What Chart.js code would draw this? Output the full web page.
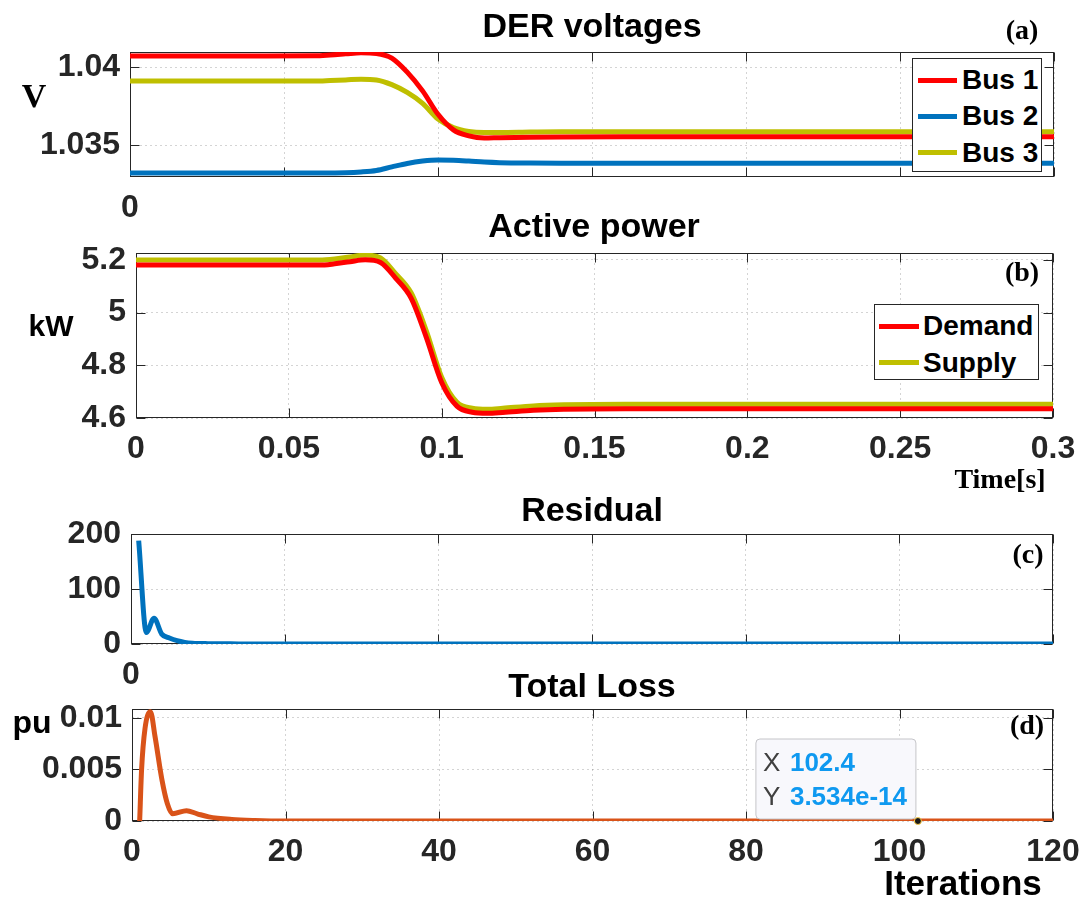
<!DOCTYPE html>
<html lang="en">
<head>
<meta charset="UTF-8">
<title>DER voltages / Active power / Residual / Total Loss</title>
<script src="https://cdn.jsdelivr.net/npm/chart.js"></script>
<style>
    body { margin: 0; background: #fff; }
    #fig { position: relative; width: 1082px; height: 902px; overflow: hidden; background: #fff; }
    #fig canvas { position: absolute; left: 0; z-index: 1; }
    .lbl { position: absolute; white-space: nowrap; color: #000; z-index: 2; text-align: center; width: 300px; }
    .sans { font-family: Arial, "Liberation Sans", Helvetica, sans-serif; font-weight: bold; }
    .serif { font-family: "Times New Roman", "Liberation Serif", serif; font-weight: bold; }
    .legend { position: absolute; background: #fff; border: 1px solid #262626; box-sizing: border-box; z-index: 2; }
    .legend .txt { position: absolute; font-size: 28px; line-height: 28px; color: #000; white-space: nowrap; }
    .legend .smp { position: absolute; height: 5px; }
</style>
</head>
<body>
<div id="fig"></div>

<script>
    // ---- data ----
    // panels (a) and (b): time in seconds
    const timeS  = [0, 0.02, 0.04, 0.06, 0.065, 0.07, 0.075, 0.08, 0.085, 0.09, 0.095, 0.1, 0.105, 0.11, 0.115, 0.12, 0.13, 0.14, 0.16, 0.2, 0.25, 0.3];
    const bus1   = [1.04074, 1.04074, 1.04074, 1.04075, 1.0408, 1.04087, 1.04094, 1.0409, 1.0406, 1.0397, 1.0385, 1.0370, 1.0360, 1.03562, 1.03548, 1.0355, 1.03553, 1.03555, 1.03556, 1.03556, 1.03556, 1.03556];
    const bus2   = [1.03324, 1.03324, 1.03324, 1.03324, 1.03324, 1.03325, 1.0333, 1.0334, 1.03363, 1.03385, 1.034, 1.03407, 1.03405, 1.034, 1.03394, 1.0339, 1.03387, 1.03386, 1.03386, 1.03386, 1.03386, 1.03386];
    const bus3   = [1.03913, 1.03913, 1.03913, 1.03913, 1.03916, 1.0392, 1.03925, 1.0392, 1.0389, 1.0384, 1.0377, 1.0367, 1.03615, 1.0359, 1.03583, 1.03583, 1.03586, 1.03588, 1.03588, 1.03588, 1.03588, 1.03588];
    const demand = [5.18, 5.18, 5.18, 5.18, 5.185, 5.193, 5.2, 5.19, 5.13, 5.055, 4.905, 4.735, 4.645, 4.622, 4.618, 4.621, 4.629, 4.633, 4.635, 4.635, 4.635, 4.635];
    const supply = [5.199, 5.199, 5.199, 5.199, 5.203, 5.211, 5.218, 5.207, 5.147, 5.075, 4.93, 4.755, 4.66, 4.637, 4.633, 4.637, 4.646, 4.65, 4.652, 4.652, 4.652, 4.652];

    // panel (c)
    const iterRes  = [1, 2, 3, 4, 5, 6, 7, 8, 10, 14, 20, 120];
    const residual = [188, 21, 47, 18, 11, 6, 3, 1.5, 0.6, 0.2, 0, 0];

    // panel (d)
    const iterLoss = [1, 1.25, 1.7, 2.4, 3, 3.9, 4.6, 5.3, 7.1, 8.5, 10, 13, 16, 20, 120];
    const loss     = [0, 0.005, 0.009, 0.0106, 0.0082, 0.004, 0.0017, 0.0007, 0.001, 0.0007, 0.0004, 0.00015, 0.00005, 0, 0];
    const tipX = 102.4, tipY = 3.534e-14;

    // ticks
    const timeTicks  = [0, 0.05, 0.1, 0.15, 0.2, 0.25, 0.3];
    const timeLabels = ['0', '0.05', '0.1', '0.15', '0.2', '0.25', '0.3'];
    const iterTicks  = [0, 20, 40, 60, 80, 100, 120];
    const iterLabels = ['0', '20', '40', '60', '80', '100', '120'];
    const voltTicks  = [1.035, 1.04];
    const voltLabels = ['1.035', '1.04'];
    const powTicks   = [4.6, 4.8, 5, 5.2];
    const powLabels  = ['4.6', '4.8', '5', '5.2'];
    const resTicks   = [0, 100, 200];
    const resLabels  = ['0', '100', '200'];
    const lossTicks  = [0, 0.005, 0.01];
    const lossLabels = ['0', '0.005', '0.01'];
    const onlyZero   = ['0', '', '', '', '', '', ''];

    const RED = '#ff0000', BLUE = '#0072bd', YELLOW = '#bfbf00', ORANGE = '#d95319';

    // ---- layout ----
    const fig = document.getElementById('fig');
    const PAD_TOP = 24, X_AXIS_H = 60;
    const SANS = 'Arial, "Liberation Sans", Helvetica, sans-serif';

    function pts(xs, ys) {
        return xs.map((x, i) => ({ x: x, y: ys[i] }));
    }

    function axisOpts(which, ax, left) {
        return {
            type: 'linear',
            min: ax.min,
            max: ax.max,
            grid: { color: 'rgba(38,38,38,0.2)', lineWidth: 1, drawTicks: false },
            border: { display: false, dash: [2, 3] },
            ticks: {
                color: '#262626',
                font: { family: SANS, size: 32, weight: 'bold' },
                padding: which === 'x' ? 12 : 10,
                autoSkip: false,
                maxRotation: 0,
                callback: (v, i) => ax.labels[i]
            },
            afterBuildTicks: s => { s.ticks = ax.ticks.map(v => ({ value: v })); },
            afterFit: s => {
                // fixed plot box: labels may spill past it, like the original
                s.paddingLeft = s.paddingRight = s.paddingTop = s.paddingBottom = 0;
                if (which === 'x') s.height = X_AXIS_H;
                else s.width = left;
            }
        };
    }

    // axes box and inward ticks, drawn under the lines like MATLAB
    const framePlugin = {
        id: 'frame',
        beforeDatasetsDraw(chart) {
            const { ctx, chartArea: a, scales } = chart;
            const L = Math.round(a.left) + 0.5, R = Math.round(a.right) - 0.5;
            const T = Math.round(a.top) + 0.5, B = Math.round(a.bottom) - 0.5;
            ctx.save();
            ctx.strokeStyle = '#262626';
            ctx.lineWidth = 1;
            ctx.strokeRect(L, T, R - L, B - T);
            ctx.beginPath();
            scales.x.ticks.forEach(t => {
                const px = Math.round(scales.x.getPixelForValue(t.value)) + 0.5;
                ctx.moveTo(px, B); ctx.lineTo(px, B - 9);
                ctx.moveTo(px, T); ctx.lineTo(px, T + 9);
            });
            scales.y.ticks.forEach(t => {
                const py = Math.round(scales.y.getPixelForValue(t.value)) + 0.5;
                ctx.moveTo(L, py); ctx.lineTo(L + 9, py);
                ctx.moveTo(R, py); ctx.lineTo(R - 9, py);
            });
            ctx.stroke();
            ctx.restore();
        }
    };

    const datatipPlugin = {
        id: 'datatip',
        afterDatasetsDraw(chart) {
            const { ctx, scales: { x, y } } = chart;
            const px = x.getPixelForValue(tipX), py = y.getPixelForValue(tipY);
            const bx = px - 162, by = py - 82, bw = 160, bh = 80, r = 4;
            ctx.save();
            ctx.beginPath();
            ctx.moveTo(bx + r, by);
            ctx.arcTo(bx + bw, by, bx + bw, by + bh, r);
            ctx.arcTo(bx + bw, by + bh, bx, by + bh, r);
            ctx.arcTo(bx, by + bh, bx, by, r);
            ctx.arcTo(bx, by, bx + bw, by, r);
            ctx.closePath();
            ctx.fillStyle = '#f8f8fc';
            ctx.fill();
            ctx.strokeStyle = '#c4c4c8';
            ctx.lineWidth = 1;
            ctx.stroke();

            ctx.textBaseline = 'middle';
            ctx.font = '26px ' + SANS;
            ctx.fillStyle = '#404040';
            ctx.fillText('X', px - 155, py - 57);
            ctx.fillText('Y', px - 155, py - 23);
            ctx.font = 'bold 26px ' + SANS;
            ctx.fillStyle = '#0f99f0';
            ctx.fillText(String(tipX), px - 128, py - 57);
            ctx.fillText(tipY.toExponential(3), px - 128, py - 23);

            ctx.beginPath();
            ctx.arc(px, py, 3.5, 0, Math.PI * 2);
            ctx.fillStyle = '#1a1a1a';
            ctx.fill();
            ctx.strokeStyle = '#ffd24d';
            ctx.lineWidth = 1;
            ctx.stroke();
            ctx.restore();
        }
    };

    function makeChart(box, datasets, xAx, yAx, extra) {
        const canvas = document.createElement('canvas');
        const h = PAD_TOP + (box.bottom - box.top) + X_AXIS_H;
        canvas.width = 1082;
        canvas.height = h;
        canvas.style.top = (box.top - PAD_TOP) + 'px';
        canvas.style.width = '1082px';
        canvas.style.height = h + 'px';
        fig.appendChild(canvas);
        return new Chart(canvas, {
            type: 'line',
            data: { datasets: datasets },
            options: {
                responsive: false,
                animation: false,
                devicePixelRatio: 1,
                layout: { padding: { left: 0, right: 1082 - box.right, top: PAD_TOP, bottom: 0 } },
                plugins: { legend: { display: false }, tooltip: { enabled: false } },
                elements: {
                    point: { radius: 0 },
                    line: { borderWidth: 5, cubicInterpolationMode: 'monotone' }
                },
                scales: {
                    x: axisOpts('x', xAx, box.left),
                    y: axisOpts('y', yAx, box.left)
                }
            },
            plugins: [framePlugin].concat(extra || [])
        });
    }

    function line(label, data, color) {
        return { label: label, data: data, borderColor: color, backgroundColor: color, fill: false };
    }

    function label(text, cls, cx, top, size) {
        const d = document.createElement('div');
        d.className = 'lbl ' + cls;
        d.textContent = text;
        d.style.left = (cx - 150) + 'px';
        d.style.top = top + 'px';
        d.style.fontSize = size + 'px';
        d.style.lineHeight = size + 'px';
        fig.appendChild(d);
    }

    function legend(box, datasets) {
        const div = document.createElement('div');
        div.className = 'legend sans';
        div.style.left = box.left + 'px';
        div.style.top = box.top + 'px';
        div.style.width = box.width + 'px';
        div.style.height = box.height + 'px';
        datasets.forEach((ds, i) => {
            const cy = box.row0 + i * box.step;
            const s = document.createElement('div');
            s.className = 'smp';
            s.style.left = box.lineL + 'px';
            s.style.width = box.lineW + 'px';
            s.style.top = (cy - 3.5) + 'px';
            s.style.background = ds.borderColor;
            const t = document.createElement('div');
            t.className = 'txt';
            t.style.left = box.textL + 'px';
            t.style.top = (cy - 15) + 'px';
            t.textContent = ds.label;
            div.appendChild(s);
            div.appendChild(t);
        });
        fig.appendChild(div);
    }

    // ---- panel (a) ----
    const dsA = [
        line('Bus 1', pts(timeS, bus1), RED),
        line('Bus 2', pts(timeS, bus2), BLUE),
        line('Bus 3', pts(timeS, bus3), YELLOW)
    ];
    makeChart({ left: 130, right: 1054, top: 52, bottom: 177 }, dsA,
        { min: 0, max: 0.3, ticks: timeTicks, labels: onlyZero },
        { min: 1.03298, max: 1.04099, ticks: voltTicks, labels: voltLabels });
    legend({ left: 912, top: 58, width: 130, height: 114, row0: 22, step: 36.3, lineL: 5, lineW: 39, textL: 49 }, dsA);

    // ---- panel (b) ----
    const dsB = [
        line('Demand', pts(timeS, demand), RED),
        line('Supply', pts(timeS, supply), YELLOW)
    ];
    makeChart({ left: 136, right: 1053, top: 253, bottom: 418 }, dsB,
        { min: 0, max: 0.3, ticks: timeTicks, labels: timeLabels },
        { min: 4.6, max: 5.226, ticks: powTicks, labels: powLabels });
    legend({ left: 874, top: 304, width: 165, height: 76, row0: 22, step: 36.7, lineL: 4, lineW: 40, textL: 48 }, dsB);

    // ---- panel (c) ----
    makeChart({ left: 131, right: 1053, top: 534, bottom: 644 },
        [line('Residual', pts(iterRes, residual), BLUE)],
        { min: 0, max: 120, ticks: iterTicks, labels: onlyZero },
        { min: 0, max: 200, ticks: resTicks, labels: resLabels });

    // ---- panel (d) ----
    makeChart({ left: 132, right: 1053, top: 709, bottom: 821 },
        [line('Total Loss', pts(iterLoss, loss), ORANGE)],
        { min: 0, max: 120, ticks: iterTicks, labels: iterLabels },
        { min: 0, max: 0.01087, ticks: lossTicks, labels: lossLabels },
        [datatipPlugin]);

    // ---- titles and axis labels ----
    label('DER voltages', 'sans', 592, 8, 34);
    label('Active power', 'sans', 594, 208, 34);
    label('Residual', 'sans', 592, 492, 34);
    label('Total Loss', 'sans', 592, 668, 34);

    label('(a)', 'serif', 1022, 16, 28);
    label('(b)', 'serif', 1022, 258, 28);
    label('(c)', 'serif', 1028, 540, 28);
    label('(d)', 'serif', 1027, 711, 28);

    label('V', 'serif', 34, 79, 34);
    label('kW', 'sans', 51, 311, 30);
    label('pu', 'sans', 32, 706, 32);
    label('Time[s]', 'serif', 1000, 465, 28);
    label('Iterations', 'sans', 963, 865, 35);
</script>
</body>
</html>
